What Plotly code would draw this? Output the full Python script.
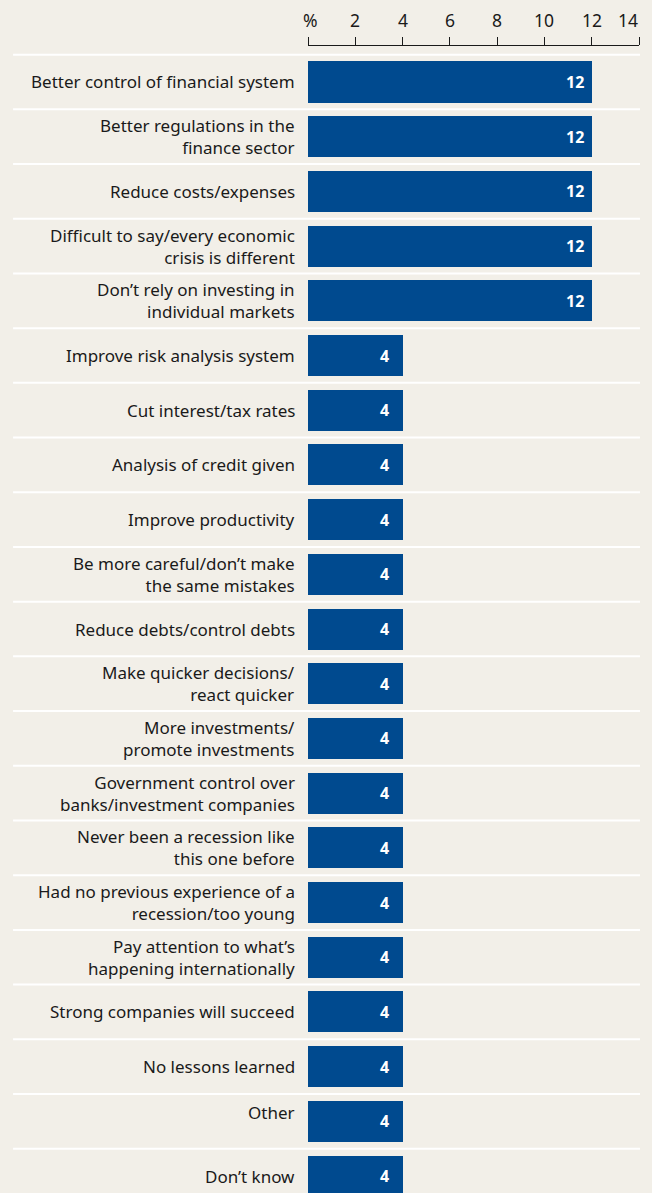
import plotly.graph_objects as go

# Survey answers (share of respondents, %)
categories = [
    "Better control of financial system",
    "Better regulations in the<br>finance sector",
    "Reduce costs/expenses",
    "Difficult to say/every economic<br>crisis is different",
    "Don’t rely on investing in<br>individual markets",
    "Improve risk analysis system",
    "Cut interest/tax rates",
    "Analysis of credit given",
    "Improve productivity",
    "Be more careful/don’t make<br>the same mistakes",
    "Reduce debts/control debts",
    "Make quicker decisions/<br>react quicker",
    "More investments/<br>promote investments",
    "Government control over<br>banks/investment companies",
    "Never been a recession like<br>this one before",
    "Had no previous experience of a<br>recession/too young",
    "Pay attention to what’s<br>happening internationally",
    "Strong companies will succeed",
    "No lessons learned",
    "Other",
    "Don’t know",
]
values = [12, 12, 12, 12, 12, 4, 4, 4, 4, 4, 4, 4, 4, 4, 4, 4, 4, 4, 4, 4, 4]
tick_vals = [0, 2, 4, 6, 8, 10, 12, 14]
tick_text = ["%", "2", "4", "6", "8", "10", "12", "14"]

BG = "#f2efe8"
BAR = "#004a8f"
INK = "#1a1a1a"
FONT = "Noto Sans, Arial, sans-serif"

pos = list(range(len(categories)))

fig = go.Figure(go.Bar(
    x=values, y=pos, orientation="h",
    marker=dict(color=BAR, line=dict(width=0)),
    width=0.75, hoverinfo="skip",
))

# White row separators running across the label column and the plot
shapes = []
for k in pos:
    shapes.append(dict(type="line", xref="paper", yref="y",
                       x0=-0.891, x1=1.003, y0=k - 0.5, y1=k - 0.5,
                       line=dict(color="white", width=2), layer="below"))

annotations = []
for k, (c, v) in enumerate(zip(categories, values)):
    annotations.append(dict(
        x=0, y=k, xref="x", yref="y", text=c, showarrow=False,
        xanchor="right", yanchor="middle", align="right", xshift=-11,
        yshift=9 if c == "Other" else 0,
        font=dict(family=FONT, size=17, color=INK),
    ))
    annotations.append(dict(
        x=v, y=k, xref="x", yref="y", text="<b>%d</b>" % v, showarrow=False,
        xanchor="right", yanchor="middle", xshift=-6 if v >= 10 else -12,
        font=dict(family=FONT, size=16, color="white"),
    ))

# Axis numbers above the ticks; the last one is tucked inside the axis end
for tv, tt in zip(tick_vals, tick_text):
    last = tv == tick_vals[-1]
    annotations.append(dict(
        x=tv, y=1, xref="x", yref="paper", text=tt, showarrow=False,
        xanchor="right" if last else "center", yanchor="middle",
        xshift=1 if last else (2 if tt == "%" else 0), yshift=26,
        font=dict(family=FONT, size=17.5, color=INK),
    ))

fig.update_layout(
    width=652, height=1193,
    margin=dict(l=308, r=13, t=46, b=0),
    paper_bgcolor=BG, plot_bgcolor=BG,
    showlegend=False, bargap=0,
    shapes=shapes, annotations=annotations,
    xaxis=dict(
        side="top", range=[0, 14], tickvals=tick_vals, showticklabels=False,
        showgrid=False, zeroline=False, showline=True,
        linecolor=INK, linewidth=1.2, ticks="outside", ticklen=8,
        tickcolor=INK, tickwidth=1.2,
    ),
    yaxis=dict(
        range=[20.31, -0.658], showticklabels=False, showgrid=False,
        zeroline=False, showline=False, ticks="",
    ),
)

fig.write_html("out.html")
